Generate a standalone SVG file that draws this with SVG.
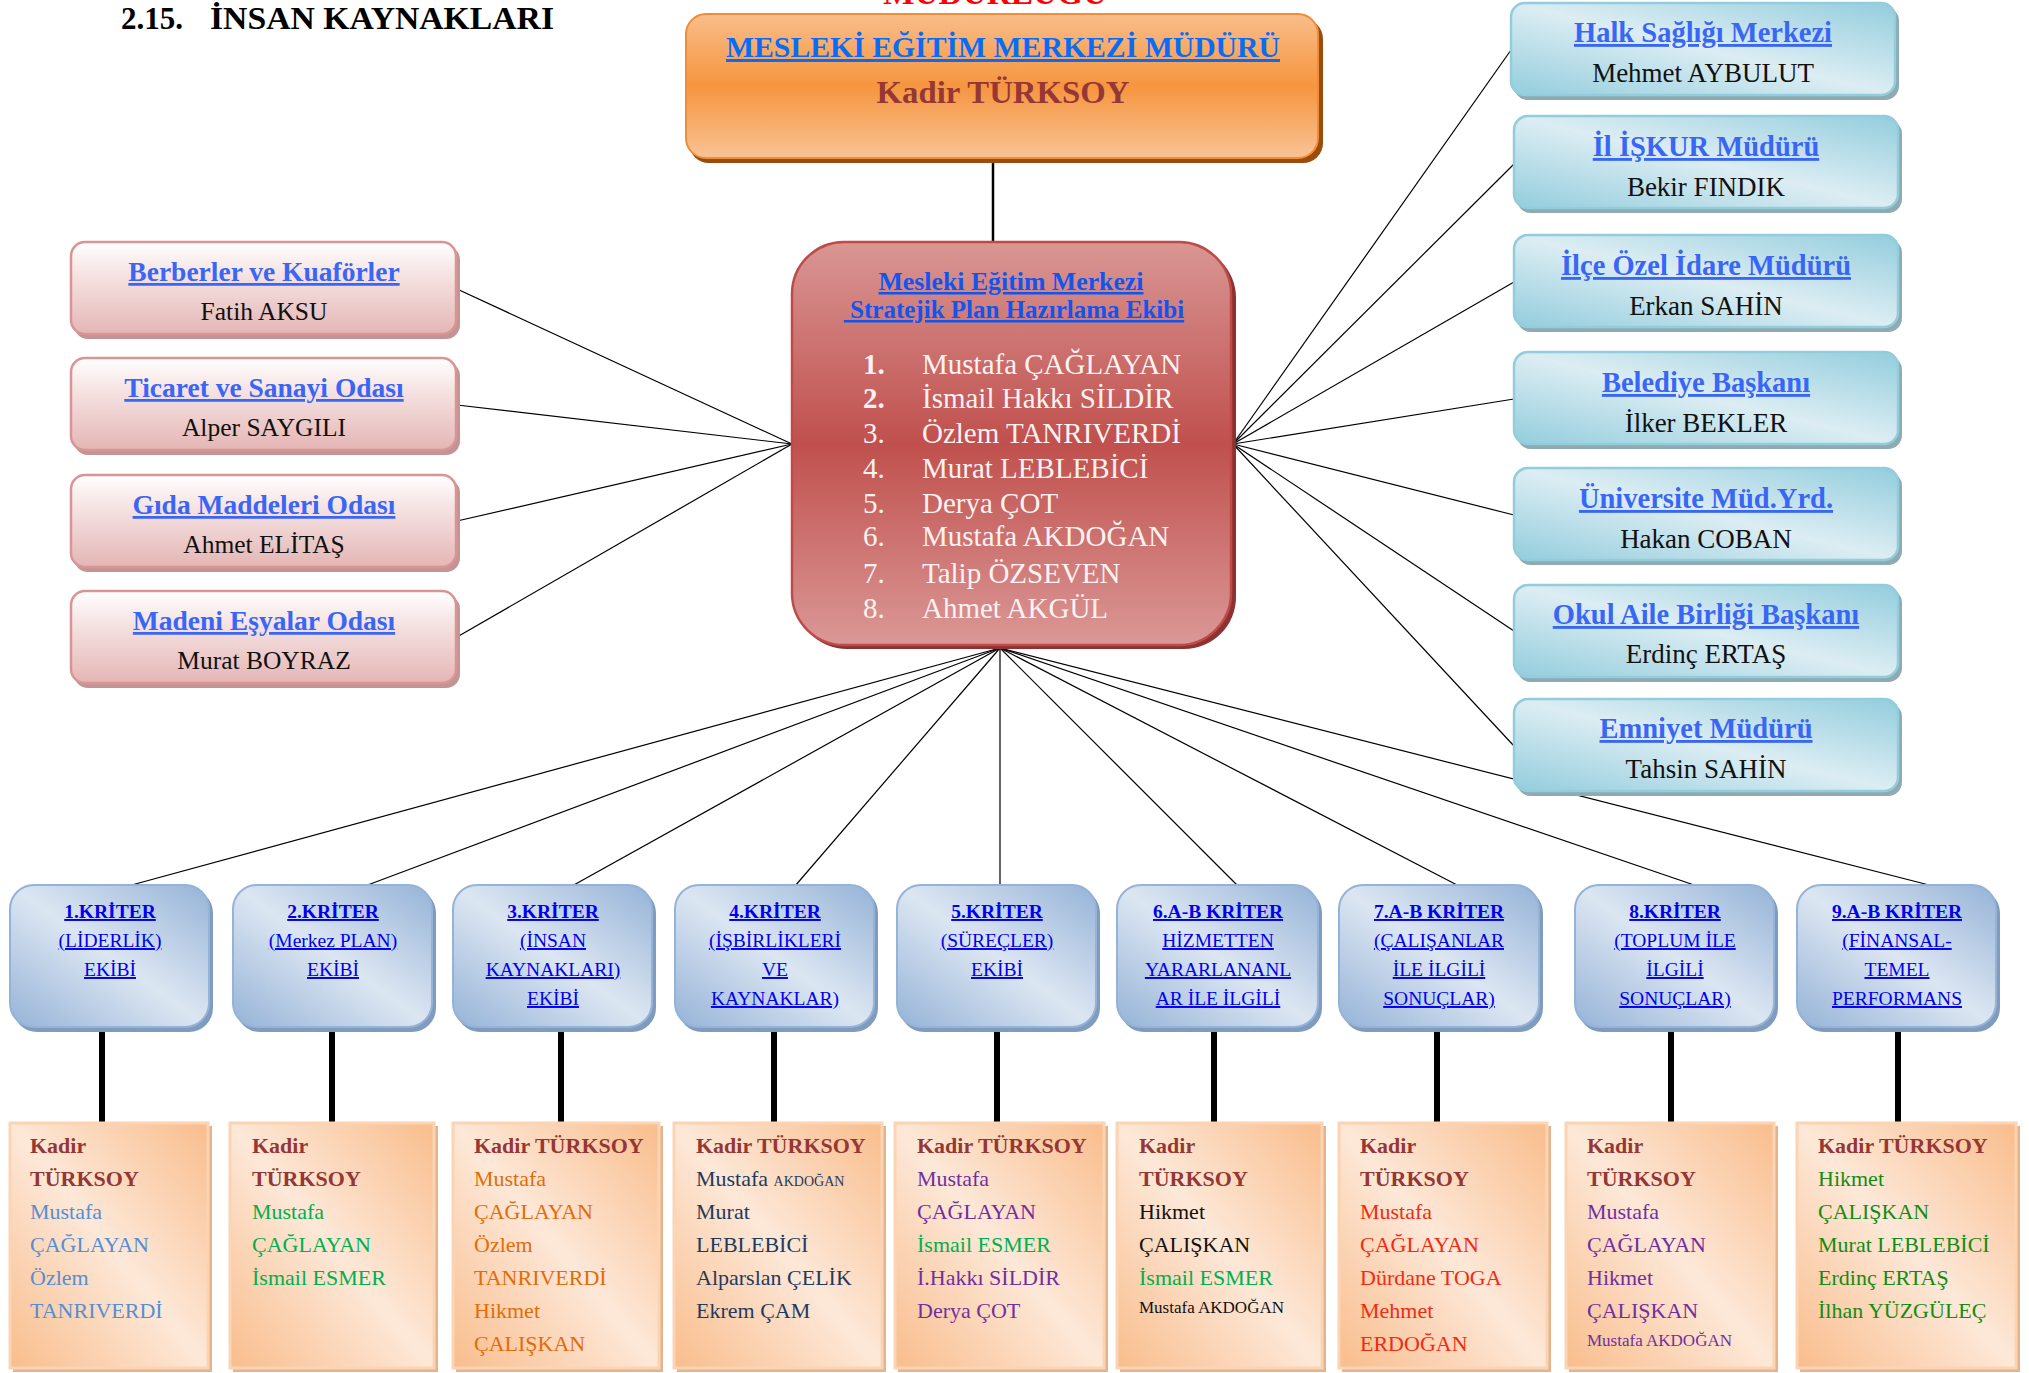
<svg xmlns="http://www.w3.org/2000/svg" width="2029" height="1373" viewBox="0 0 2029 1373">
<style>
text{font-family:"Liberation Serif","DejaVu Serif",serif;}
.u{text-decoration:underline;}
.b{font-weight:bold;}
.thin{stroke:#000;stroke-width:1.2;fill:none;}
.thick{stroke:#000;stroke-width:6;fill:none;}
.pinkT{fill:#3a66f5;font-weight:bold;font-size:27.5px;text-anchor:middle;}
.pinkN{fill:#111;font-size:25.5px;text-anchor:middle;}
.tealT{fill:#3a66f5;font-weight:bold;font-size:28.5px;text-anchor:middle;}
.tealN{fill:#111;font-size:27px;text-anchor:middle;}
.kT{fill:#0000ee;font-size:19.5px;text-anchor:middle;text-decoration:underline;}
.m{font-size:22px;}
.kd{fill:#953735;font-weight:bold;}
.c1{fill:#558ed5;}
.cg{fill:#00b050;}
.co{fill:#e36c09;}
.cn{fill:#1f3a5f;}
.cp{fill:#7030a0;}
.ck{fill:#111;}
.cr{fill:#f32a12;}
.cd{fill:#138c13;}
.list{fill:#fdf2f1;font-size:29px;}
</style>
<defs>
<linearGradient id="gTop" x1="0" y1="0" x2="0" y2="1">
<stop offset="0" stop-color="#f9bd8a"/><stop offset="0.5" stop-color="#f6953f"/><stop offset="1" stop-color="#f9c395"/>
</linearGradient>
<linearGradient id="gRed" x1="0" y1="0" x2="0" y2="1">
<stop offset="0" stop-color="#d99694"/><stop offset="0.5" stop-color="#c0504d"/><stop offset="1" stop-color="#da9896"/>
</linearGradient>
<linearGradient id="gPink" x1="0" y1="0" x2="0" y2="1">
<stop offset="0" stop-color="#ffffff"/><stop offset="0.35" stop-color="#f6e3e3"/><stop offset="1" stop-color="#e4b6b5"/>
</linearGradient>
<linearGradient id="gTeal" x1="1" y1="0" x2="0" y2="1">
<stop offset="0" stop-color="#93cddd"/><stop offset="0.5" stop-color="#dcedf3"/><stop offset="1" stop-color="#93cddd"/>
</linearGradient>
<linearGradient id="gBlue" x1="1" y1="0" x2="0" y2="1">
<stop offset="0" stop-color="#95b3d7"/><stop offset="0.5" stop-color="#dce6f2"/><stop offset="1" stop-color="#95b3d7"/>
</linearGradient>
<linearGradient id="gPeach" x1="1" y1="0" x2="0" y2="1">
<stop offset="0" stop-color="#f9bd8c"/><stop offset="0.5" stop-color="#fde8d8"/><stop offset="1" stop-color="#f9bd8c"/>
</linearGradient>
</defs>

<rect width="2029" height="1373" fill="#ffffff"/>

<!-- heading -->
<text x="121" y="29" class="b" font-size="31" fill="#000" textLength="62" lengthAdjust="spacingAndGlyphs">2.15.</text>
<text x="210" y="29" class="b" font-size="31" fill="#000" textLength="344" lengthAdjust="spacingAndGlyphs">İNSAN KAYNAKLARI</text>
<text x="995" y="4" class="b" font-size="32" fill="#ff0000" text-anchor="middle" textLength="224" lengthAdjust="spacingAndGlyphs">MÜDÜRLÜĞÜ</text>

<!-- connectors -->
<g id="connectors">
<line class="thin" x1="993" y1="162" x2="993" y2="242" style="stroke-width:2.5"/>
<line class="thin" x1="792" y1="444" x2="457" y2="289"/>
<line class="thin" x1="792" y1="444" x2="457" y2="405"/>
<line class="thin" x1="792" y1="444" x2="457" y2="521"/>
<line class="thin" x1="792" y1="444" x2="457" y2="637"/>
<line class="thin" x1="1233" y1="444" x2="1511" y2="50"/>
<line class="thin" x1="1233" y1="444" x2="1514" y2="164"/>
<line class="thin" x1="1233" y1="444" x2="1514" y2="282"/>
<line class="thin" x1="1233" y1="444" x2="1514" y2="399"/>
<line class="thin" x1="1233" y1="444" x2="1514" y2="515"/>
<line class="thin" x1="1233" y1="444" x2="1514" y2="631"/>
<line class="thin" x1="1233" y1="444" x2="1514" y2="746"/>
<line class="thin" x1="1000" y1="648" x2="128" y2="886"/>
<line class="thin" x1="1000" y1="648" x2="365" y2="886"/>
<line class="thin" x1="1000" y1="648" x2="572" y2="886"/>
<line class="thin" x1="1000" y1="648" x2="795" y2="886"/>
<line class="thin" x1="1000" y1="648" x2="1000" y2="886"/>
<line class="thin" x1="1000" y1="648" x2="1238" y2="886"/>
<line class="thin" x1="1000" y1="648" x2="1459" y2="886"/>
<line class="thin" x1="1000" y1="648" x2="1697" y2="886"/>
<line class="thin" x1="1000" y1="648" x2="1933" y2="886"/>
<line class="thick" x1="102" y1="1030" x2="102" y2="1124"/>
<line class="thick" x1="332" y1="1030" x2="332" y2="1124"/>
<line class="thick" x1="561" y1="1030" x2="561" y2="1124"/>
<line class="thick" x1="774" y1="1030" x2="774" y2="1124"/>
<line class="thick" x1="997" y1="1030" x2="997" y2="1124"/>
<line class="thick" x1="1214" y1="1030" x2="1214" y2="1124"/>
<line class="thick" x1="1437" y1="1030" x2="1437" y2="1124"/>
<line class="thick" x1="1671" y1="1030" x2="1671" y2="1124"/>
<line class="thick" x1="1898" y1="1030" x2="1898" y2="1124"/>
</g>

<!-- top box -->
<g id="mudur">
<rect x="689" y="19" width="634" height="144" rx="20" fill="#9a4c0c"/>
<rect x="686" y="14" width="632" height="144" rx="20" fill="url(#gTop)" stroke="#f28c36" stroke-width="2"/>
<text x="1003" y="57" class="b u" font-size="30" fill="#0a6cf5" text-anchor="middle" textLength="554" lengthAdjust="spacingAndGlyphs">MESLEKİ EĞİTİM MERKEZİ MÜDÜRÜ</text>
<text x="1003" y="103" class="b" font-size="31" fill="#953735" text-anchor="middle" textLength="253" lengthAdjust="spacingAndGlyphs">Kadir TÜRKSOY</text>
</g>

<!-- strategic plan team -->
<g id="ekip">
<rect x="795" y="246" width="441" height="403" rx="52" fill="#8c3230"/>
<rect x="792" y="242" width="439" height="403" rx="52" fill="url(#gRed)" stroke="#be4b48" stroke-width="2.5"/>
<text x="1011" y="290" class="b u" font-size="25" fill="#1155ee" text-anchor="middle" textLength="265" lengthAdjust="spacingAndGlyphs">Mesleki Eğitim Merkezi</text>
<text x="1014" y="318" class="b u" font-size="25" fill="#1155ee" text-anchor="middle" xml:space="preserve"> Stratejik Plan Hazırlama Ekibi</text>
<text class="list" x="863" y="374"><tspan class="b">1.</tspan></text><text class="list" x="922" y="374">Mustafa ÇAĞLAYAN</text>
<text class="list" x="863" y="408"><tspan class="b">2.</tspan></text><text class="list" x="922" y="408">İsmail Hakkı SİLDİR</text>
<text class="list" x="863" y="443">3.</text><text class="list" x="922" y="443">Özlem TANRIVERDİ</text>
<text class="list" x="863" y="478">4.</text><text class="list" x="922" y="478">Murat LEBLEBİCİ</text>
<text class="list" x="863" y="513">5.</text><text class="list" x="922" y="513">Derya ÇOT</text>
<text class="list" x="863" y="546">6.</text><text class="list" x="922" y="546">Mustafa AKDOĞAN</text>
<text class="list" x="863" y="583">7.</text><text class="list" x="922" y="583">Talip ÖZSEVEN</text>
<text class="list" x="863" y="618">8.</text><text class="list" x="922" y="618">Ahmet AKGÜL</text>
</g>

<!-- left boxes -->
<g id="berberler">
<rect x="74" y="246" width="386" height="93" rx="14" fill="#c29495"/>
<rect x="71" y="242" width="385" height="92" rx="14" fill="url(#gPink)" stroke="#d99594" stroke-width="2.5"/>
<text class="pinkT u" x="264" y="281">Berberler ve Kuaförler</text>
<text class="pinkN" x="264" y="320">Fatih AKSU</text>
</g>
<g id="ticaret">
<rect x="74" y="362" width="386" height="93" rx="14" fill="#c29495"/>
<rect x="71" y="358" width="385" height="92" rx="14" fill="url(#gPink)" stroke="#d99594" stroke-width="2.5"/>
<text class="pinkT u" x="264" y="397">Ticaret ve Sanayi Odası</text>
<text class="pinkN" x="264" y="436">Alper SAYGILI</text>
</g>
<g id="gida">
<rect x="74" y="479" width="386" height="93" rx="14" fill="#c29495"/>
<rect x="71" y="475" width="385" height="92" rx="14" fill="url(#gPink)" stroke="#d99594" stroke-width="2.5"/>
<text class="pinkT u" x="264" y="514">Gıda Maddeleri Odası</text>
<text class="pinkN" x="264" y="553">Ahmet ELİTAŞ</text>
</g>
<g id="madeni">
<rect x="74" y="595" width="386" height="93" rx="14" fill="#c29495"/>
<rect x="71" y="591" width="385" height="92" rx="14" fill="url(#gPink)" stroke="#d99594" stroke-width="2.5"/>
<text class="pinkT u" x="264" y="630">Madeni Eşyalar Odası</text>
<text class="pinkN" x="264" y="669">Murat BOYRAZ</text>
</g>

<!-- right boxes -->
<g id="halk">
<rect x="1514" y="7" width="385" height="93" rx="14" fill="#8eaab3"/>
<rect x="1511" y="3" width="384" height="92" rx="14" fill="url(#gTeal)" stroke="#92cddc" stroke-width="2.5"/>
<text class="tealT u" x="1703" y="42">Halk Sağlığı Merkezi</text>
<text class="tealN" x="1703" y="82">Mehmet AYBULUT</text>
</g>
<g id="iskur">
<rect x="1517" y="120" width="385" height="93" rx="14" fill="#8eaab3"/>
<rect x="1514" y="116" width="384" height="92" rx="14" fill="url(#gTeal)" stroke="#92cddc" stroke-width="2.5"/>
<text class="tealT u" x="1706" y="156">İl İŞKUR Müdürü</text>
<text class="tealN" x="1706" y="196">Bekir FINDIK</text>
</g>
<g id="ilce">
<rect x="1517" y="239" width="385" height="93" rx="14" fill="#8eaab3"/>
<rect x="1514" y="235" width="384" height="92" rx="14" fill="url(#gTeal)" stroke="#92cddc" stroke-width="2.5"/>
<text class="tealT u" x="1706" y="275">İlçe Özel İdare Müdürü</text>
<text class="tealN" x="1706" y="315">Erkan SAHİN</text>
</g>
<g id="belediye">
<rect x="1517" y="356" width="385" height="93" rx="14" fill="#8eaab3"/>
<rect x="1514" y="352" width="384" height="92" rx="14" fill="url(#gTeal)" stroke="#92cddc" stroke-width="2.5"/>
<text class="tealT u" x="1706" y="392">Belediye Başkanı</text>
<text class="tealN" x="1706" y="432">İlker BEKLER</text>
</g>
<g id="universite">
<rect x="1517" y="472" width="385" height="93" rx="14" fill="#8eaab3"/>
<rect x="1514" y="468" width="384" height="92" rx="14" fill="url(#gTeal)" stroke="#92cddc" stroke-width="2.5"/>
<text class="tealT u" x="1706" y="508">Üniversite Müd.Yrd.</text>
<text class="tealN" x="1706" y="548">Hakan COBAN</text>
</g>
<g id="okulaile">
<rect x="1517" y="589" width="385" height="93" rx="14" fill="#8eaab3"/>
<rect x="1514" y="585" width="384" height="92" rx="14" fill="url(#gTeal)" stroke="#92cddc" stroke-width="2.5"/>
<text class="tealT u" x="1706" y="624">Okul Aile Birliği Başkanı</text>
<text class="tealN" x="1706" y="663">Erdinç ERTAŞ</text>
</g>
<g id="emniyet">
<rect x="1517" y="703" width="385" height="93" rx="14" fill="#8eaab3"/>
<rect x="1514" y="699" width="384" height="92" rx="14" fill="url(#gTeal)" stroke="#92cddc" stroke-width="2.5"/>
<text class="tealT u" x="1706" y="738">Emniyet Müdürü</text>
<text class="tealN" x="1706" y="778">Tahsin SAHİN</text>
</g>

<!-- criterion boxes -->
<g id="k1">
<rect x="13" y="889" width="200" height="143" rx="24" fill="#7f9bbd"/>
<rect x="10" y="885" width="199" height="142" rx="24" fill="url(#gBlue)" stroke="#95b3d7" stroke-width="2"/>
<text class="kT b" x="110" y="918">1.KRİTER</text>
<text class="kT" x="110" y="947">(LİDERLİK)</text>
<text class="kT" x="110" y="976">EKİBİ</text>
</g>
<g id="k2">
<rect x="236" y="889" width="200" height="143" rx="24" fill="#7f9bbd"/>
<rect x="233" y="885" width="199" height="142" rx="24" fill="url(#gBlue)" stroke="#95b3d7" stroke-width="2"/>
<text class="kT b" x="333" y="918">2.KRİTER</text>
<text class="kT" x="333" y="947">(Merkez PLAN)</text>
<text class="kT" x="333" y="976">EKİBİ</text>
</g>
<g id="k3">
<rect x="456" y="889" width="200" height="143" rx="24" fill="#7f9bbd"/>
<rect x="453" y="885" width="199" height="142" rx="24" fill="url(#gBlue)" stroke="#95b3d7" stroke-width="2"/>
<text class="kT b" x="553" y="918">3.KRİTER</text>
<text class="kT" x="553" y="947">(İNSAN</text>
<text class="kT" x="553" y="976">KAYNAKLARI)</text>
<text class="kT" x="553" y="1005">EKİBİ</text>
</g>
<g id="k4">
<rect x="678" y="889" width="200" height="143" rx="24" fill="#7f9bbd"/>
<rect x="675" y="885" width="199" height="142" rx="24" fill="url(#gBlue)" stroke="#95b3d7" stroke-width="2"/>
<text class="kT b" x="775" y="918">4.KRİTER</text>
<text class="kT" x="775" y="947">(İŞBİRLİKLERİ</text>
<text class="kT" x="775" y="976">VE</text>
<text class="kT" x="775" y="1005">KAYNAKLAR)</text>
</g>
<g id="k5">
<rect x="900" y="889" width="200" height="143" rx="24" fill="#7f9bbd"/>
<rect x="897" y="885" width="199" height="142" rx="24" fill="url(#gBlue)" stroke="#95b3d7" stroke-width="2"/>
<text class="kT b" x="997" y="918">5.KRİTER</text>
<text class="kT" x="997" y="947">(SÜREÇLER)</text>
<text class="kT" x="997" y="976">EKİBİ</text>
</g>
<g id="k6">
<rect x="1120" y="889" width="202" height="143" rx="24" fill="#7f9bbd"/>
<rect x="1117" y="885" width="201" height="142" rx="24" fill="url(#gBlue)" stroke="#95b3d7" stroke-width="2"/>
<text class="kT b" x="1218" y="918">6.A-B KRİTER</text>
<text class="kT" x="1218" y="947">HİZMETTEN</text>
<text class="kT" x="1218" y="976">YARARLANANL</text>
<text class="kT" x="1218" y="1005">AR İLE İLGİLİ</text>
</g>
<g id="k7">
<rect x="1342" y="889" width="201" height="143" rx="24" fill="#7f9bbd"/>
<rect x="1339" y="885" width="200" height="142" rx="24" fill="url(#gBlue)" stroke="#95b3d7" stroke-width="2"/>
<text class="kT b" x="1439" y="918">7.A-B KRİTER</text>
<text class="kT" x="1439" y="947">(ÇALIŞANLAR</text>
<text class="kT" x="1439" y="976">İLE İLGİLİ</text>
<text class="kT" x="1439" y="1005">SONUÇLAR)</text>
</g>
<g id="k8">
<rect x="1578" y="889" width="200" height="143" rx="24" fill="#7f9bbd"/>
<rect x="1575" y="885" width="199" height="142" rx="24" fill="url(#gBlue)" stroke="#95b3d7" stroke-width="2"/>
<text class="kT b" x="1675" y="918">8.KRİTER</text>
<text class="kT" x="1675" y="947">(TOPLUM İLE</text>
<text class="kT" x="1675" y="976">İLGİLİ</text>
<text class="kT" x="1675" y="1005">SONUÇLAR)</text>
</g>
<g id="k9">
<rect x="1800" y="889" width="200" height="143" rx="24" fill="#7f9bbd"/>
<rect x="1797" y="885" width="199" height="142" rx="24" fill="url(#gBlue)" stroke="#95b3d7" stroke-width="2"/>
<text class="kT b" x="1897" y="918">9.A-B KRİTER</text>
<text class="kT" x="1897" y="947">(FİNANSAL-</text>
<text class="kT" x="1897" y="976">TEMEL</text>
<text class="kT" x="1897" y="1005">PERFORMANS</text>
</g>

<!-- member boxes -->
<g id="m1">
<rect x="13" y="1126" width="199" height="246" fill="#e6b48c"/>
<rect x="10" y="1123" width="198" height="245" fill="url(#gPeach)" stroke="#fbd4b4" stroke-width="3"/>
<text class="m" x="30"><tspan class="kd" x="30" y="1153">Kadir</tspan><tspan class="kd" x="30" y="1186">TÜRKSOY</tspan><tspan class="c1" x="30" y="1219">Mustafa</tspan><tspan class="c1" x="30" y="1252">ÇAĞLAYAN</tspan><tspan class="c1" x="30" y="1285">Özlem</tspan><tspan class="c1" x="30" y="1318">TANRIVERDİ</tspan></text>
</g>
<g id="m2">
<rect x="233" y="1126" width="205" height="246" fill="#e6b48c"/>
<rect x="230" y="1123" width="204" height="245" fill="url(#gPeach)" stroke="#fbd4b4" stroke-width="3"/>
<text class="m"><tspan class="kd" x="252" y="1153">Kadir</tspan><tspan class="kd" x="252" y="1186">TÜRKSOY</tspan><tspan class="cg" x="252" y="1219">Mustafa</tspan><tspan class="cg" x="252" y="1252">ÇAĞLAYAN</tspan><tspan class="cg" x="252" y="1285">İsmail ESMER</tspan></text>
</g>
<g id="m3">
<rect x="456" y="1126" width="207" height="246" fill="#e6b48c"/>
<rect x="453" y="1123" width="206" height="245" fill="url(#gPeach)" stroke="#fbd4b4" stroke-width="3"/>
<text class="m"><tspan class="kd" x="474" y="1153">Kadir TÜRKSOY</tspan><tspan class="co" x="474" y="1186">Mustafa</tspan><tspan class="co" x="474" y="1219">ÇAĞLAYAN</tspan><tspan class="co" x="474" y="1252">Özlem</tspan><tspan class="co" x="474" y="1285">TANRIVERDİ</tspan><tspan class="co" x="474" y="1318">Hikmet</tspan><tspan class="co" x="474" y="1351">ÇALIŞKAN</tspan></text>
</g>
<g id="m4">
<rect x="677" y="1126" width="209" height="246" fill="#e6b48c"/>
<rect x="674" y="1123" width="208" height="245" fill="url(#gPeach)" stroke="#fbd4b4" stroke-width="3"/>
<text class="m"><tspan class="kd" x="696" y="1153">Kadir TÜRKSOY</tspan><tspan class="cn" x="696" y="1186">Mustafa <tspan font-size="14">AKDOĞAN</tspan></tspan><tspan class="cn" x="696" y="1219">Murat</tspan><tspan class="cn" x="696" y="1252">LEBLEBİCİ</tspan><tspan class="cn" x="696" y="1285">Alparslan ÇELİK</tspan><tspan class="cn" x="696" y="1318">Ekrem ÇAM</tspan></text>
</g>
<g id="m5">
<rect x="898" y="1126" width="210" height="246" fill="#e6b48c"/>
<rect x="895" y="1123" width="209" height="245" fill="url(#gPeach)" stroke="#fbd4b4" stroke-width="3"/>
<text class="m"><tspan class="kd" x="917" y="1153">Kadir TÜRKSOY</tspan><tspan class="cp" x="917" y="1186">Mustafa</tspan><tspan class="cp" x="917" y="1219">ÇAĞLAYAN</tspan><tspan class="cg" x="917" y="1252">İsmail ESMER</tspan><tspan class="cp" x="917" y="1285">İ.Hakkı SİLDİR</tspan><tspan class="cp" x="917" y="1318">Derya ÇOT</tspan></text>
</g>
<g id="m6">
<rect x="1120" y="1126" width="206" height="246" fill="#e6b48c"/>
<rect x="1117" y="1123" width="205" height="245" fill="url(#gPeach)" stroke="#fbd4b4" stroke-width="3"/>
<text class="m"><tspan class="kd" x="1139" y="1153">Kadir</tspan><tspan class="kd" x="1139" y="1186">TÜRKSOY</tspan><tspan class="ck" x="1139" y="1219">Hikmet</tspan><tspan class="ck" x="1139" y="1252">ÇALIŞKAN</tspan><tspan class="cg" x="1139" y="1285">İsmail ESMER</tspan><tspan class="ck" x="1139" y="1313" font-size="17">Mustafa AKDOĞAN</tspan></text>
</g>
<g id="m7">
<rect x="1342" y="1126" width="209" height="246" fill="#e6b48c"/>
<rect x="1339" y="1123" width="208" height="245" fill="url(#gPeach)" stroke="#fbd4b4" stroke-width="3"/>
<text class="m"><tspan class="kd" x="1360" y="1153">Kadir</tspan><tspan class="kd" x="1360" y="1186">TÜRKSOY</tspan><tspan class="cr" x="1360" y="1219">Mustafa</tspan><tspan class="cr" x="1360" y="1252">ÇAĞLAYAN</tspan><tspan class="cr" x="1360" y="1285">Dürdane TOGA</tspan><tspan class="cr" x="1360" y="1318">Mehmet</tspan><tspan class="cr" x="1360" y="1351">ERDOĞAN</tspan></text>
</g>
<g id="m8">
<rect x="1569" y="1126" width="209" height="246" fill="#e6b48c"/>
<rect x="1566" y="1123" width="208" height="245" fill="url(#gPeach)" stroke="#fbd4b4" stroke-width="3"/>
<text class="m"><tspan class="kd" x="1587" y="1153">Kadir</tspan><tspan class="kd" x="1587" y="1186">TÜRKSOY</tspan><tspan class="cp" x="1587" y="1219">Mustafa</tspan><tspan class="cp" x="1587" y="1252">ÇAĞLAYAN</tspan><tspan class="cp" x="1587" y="1285">Hikmet</tspan><tspan class="cp" x="1587" y="1318">ÇALIŞKAN</tspan><tspan class="cp" x="1587" y="1346" font-size="17">Mustafa AKDOĞAN</tspan></text>
</g>
<g id="m9">
<rect x="1800" y="1126" width="220" height="246" fill="#e6b48c"/>
<rect x="1797" y="1123" width="219" height="245" fill="url(#gPeach)" stroke="#fbd4b4" stroke-width="3"/>
<text class="m"><tspan class="kd" x="1818" y="1153">Kadir TÜRKSOY</tspan><tspan class="cd" x="1818" y="1186">Hikmet</tspan><tspan class="cd" x="1818" y="1219">ÇALIŞKAN</tspan><tspan class="cd" x="1818" y="1252">Murat LEBLEBİCİ</tspan><tspan class="cd" x="1818" y="1285">Erdinç ERTAŞ</tspan><tspan class="cd" x="1818" y="1318">İlhan YÜZGÜLEÇ</tspan></text>
</g>
</svg>
